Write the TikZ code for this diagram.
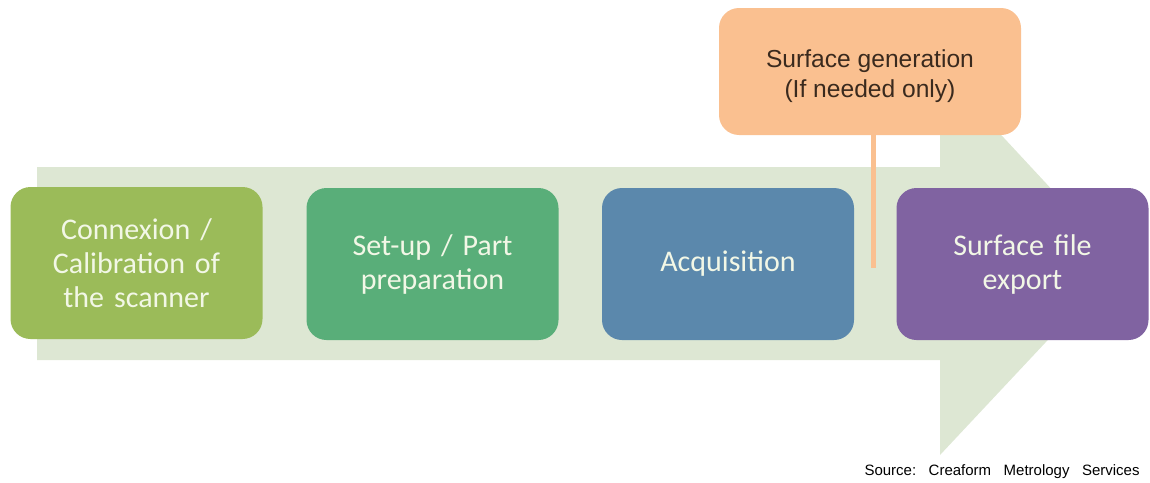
\documentclass[tikz,border=0pt]{standalone}
\usepackage{fontspec}
\setmainfont{Carlito}
\newfontfamily\arialfont{Liberation Sans}
\usetikzlibrary{calc,positioning}
\definecolor{arrowbg}{HTML}{DDE7D3}
\definecolor{stepA}{HTML}{9BBB59}
\definecolor{stepB}{HTML}{59AE79}
\definecolor{stepC}{HTML}{5B88AC}
\definecolor{stepD}{HTML}{8063A1}
\definecolor{genfill}{HTML}{FAC090}
\definecolor{steptext}{HTML}{F2F7E6}
\definecolor{gentext}{HTML}{3A2A1E}
\begin{document}
\begin{tikzpicture}[x=0.5pt,y=-0.5pt]
\tikzstyle{stepbox}=[rounded corners=10pt,minimum width=126pt,minimum height=76pt,inner sep=2pt,
  text width=120pt,align=center,text=steptext,font=\fontsize{15}{17}\selectfont]
\tikzstyle{genbox}=[rounded corners=10pt,minimum width=151pt,minimum height=63.5pt,fill=genfill,
  align=center,text=gentext,font=\arialfont\fontsize{12.3}{15}\selectfont]
\useasboundingbox (0,0) rectangle (1150,482);
% big background arrow
\fill[arrowbg] (37,167) -- (940,167) -- (940,69) -- (1120,263) -- (940,455) -- (940,360) -- (37,360) -- cycle;
% the four steps
\node[stepbox,fill=stepA] (conn) at (136.5,263) {Connexion /\\Calibration of\\the scanner};
\node[stepbox,fill=stepB] (setup) at (432.5,264) {Set-up / Part\\preparation};
\node[stepbox,fill=stepC] (acq) at (728,264) {Acquisition};
\node[stepbox,fill=stepD] (export) at (1022.5,264) {Surface file\\export};
% optional step
\node[genbox] (gen) at (870,71.5) {};
\node[genbox,fill=none,draw=none] (gentxt) at (870,76) {Surface generation\\(If needed only)};
\coordinate (genend) at (873,268);
\draw[genfill,line width=2.5pt] (gen.south -| genend) -- (genend);
\node[anchor=base east,inner sep=0pt,font=\arialfont\fontsize{7.5}{9}\selectfont] (src) at (1140,475)
  {Source:\ \ \ Creaform\ \ \ Metrology\ \ \ Services};
\end{tikzpicture}
\end{document}
